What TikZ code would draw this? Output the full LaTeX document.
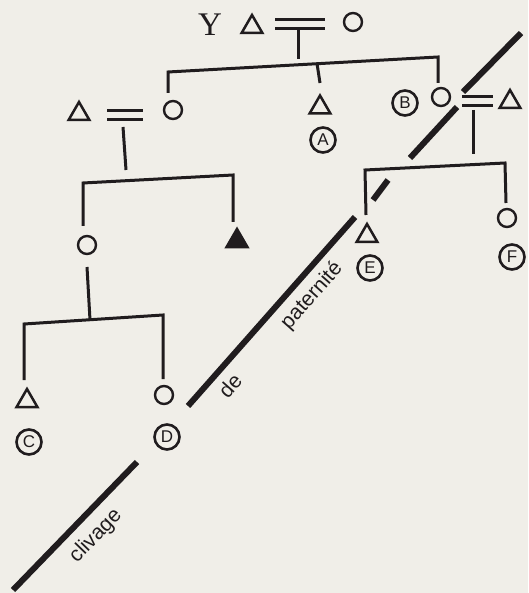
\documentclass[tikz,border=0pt]{standalone}
\usepackage{fontspec}
\setmainfont{Liberation Serif}
\newfontfamily\lsans{Liberation Sans}
\usetikzlibrary{shapes.geometric}
\definecolor{paper}{RGB}{240,238,232}
\definecolor{ink}{RGB}{32,28,30}
\begin{document}
\begin{tikzpicture}[x=1pt,y=-1pt,
  male/.style={regular polygon, regular polygon sides=3, draw=ink, line width=2.5pt, minimum size=24pt, inner sep=0pt},
  deadmale/.style={male, fill=ink},
  female/.style={circle, draw=ink, line width=2.4pt, minimum size=18pt, inner sep=0pt},
  tag/.style={circle, draw=ink, line width=2.6pt, minimum size=25pt, inner sep=0pt, text=ink, font=\lsans\fontsize{17}{17}\selectfont},
  kin/.style={draw=ink, line width=3pt},
  cleave/.style={draw=ink, line width=6pt},
  cleavetext/.style={text=ink, font=\lsans\fontsize{21}{21}\selectfont, inner sep=0pt}]
\fill[paper] (0,0) rectangle (528,593);
\useasboundingbox (0,0) rectangle (528,593);

% ---------- top couple ----------
\node[text=ink, inner sep=0pt, font=\fontsize{33}{33}\selectfont] (Y) at (210,25) {Y};
\node[male] (m0) at (252,27) {};
\node[female] (f0) at (353,22) {};
\coordinate (b0a) at (275,20); \coordinate (b0b) at (325,20);
\coordinate (b0c) at (275,29); \coordinate (b0d) at (325,29);
\draw[kin] (b0a) -- (b0b);
\draw[kin] (b0c) -- (b0d);
\coordinate (s0a) at (298,29); \coordinate (s0b) at (298,59);
\draw[kin] (s0a) -- (s0b);

% ---------- generation 2 ----------
\node[female] (f1) at (173,110) {};
\node[male] (m1) at (320,107.5) {};
\node[female] (f2) at (441,97) {};
\node[male] (m2) at (79,114) {};
\node[male] (m5) at (510,102) {};
\node[tag] (tA) at (323,140) {A};
\node[tag] (tB) at (405,103) {B};

\coordinate (g1L) at (168,72); \coordinate (g1R) at (438,57); \coordinate (g1A) at (317,63.5);
\draw[kin] (168,93) -- (g1L) -- (g1R) -- (438,83);
\draw[kin] (g1A) -- ([yshift=10pt]m1.north);

% left couple
\coordinate (b1a) at (107,111); \coordinate (b1b) at (143,111);
\coordinate (b1c) at (107,120); \coordinate (b1d) at (143,120);
\draw[kin] (b1a) -- (b1b);
\draw[kin] (b1c) -- (b1d);
\coordinate (s1a) at (123,127); \coordinate (s1b) at (126,170);
\draw[kin] (s1a) -- (s1b);

% right couple
\coordinate (b2a) at (462,97); \coordinate (b2b) at (493,97);
\coordinate (b2c) at (462,106); \coordinate (b2d) at (493,106);
\draw[kin] (b2a) -- (b2b);
\draw[kin] (b2c) -- (b2d);
\coordinate (s2a) at (473,110); \coordinate (s2b) at (473,154);
\draw[kin] (s2a) -- (s2b);

% ---------- generation 3 ----------
\node[female] (f3) at (87,245) {};
\node[deadmale] (m3) at (237,241) {};
\node[male] (m6) at (367,236) {};
\node[female] (f5) at (507,218) {};
\node[tag] (tE) at (370,268) {E};
\node[tag] (tF) at (512,257) {F};

\coordinate (g2L) at (83,183); \coordinate (g2R) at (233,175);
\draw[kin] (83,226) -- (g2L) -- (g2R) -- (233,222);

\coordinate (g4L) at (365,170); \coordinate (g4R) at (505,163);
\draw[kin] (366,215) -- (g4L) -- (g4R) -- (506,203);

% ---------- generation 4 ----------
\node[male] (m4) at (27,401) {};
\node[female] (f4) at (164,395) {};
\node[tag] (tC) at (29,442) {C};
\node[tag] (tD) at (167,437) {D};

\coordinate (s3a) at (87,267); \coordinate (s3b) at (90,320);
\draw[kin] (s3a) -- (s3b);
\coordinate (g3L) at (24,324); \coordinate (g3R) at (163,315);
\draw[kin] (24,380) -- (g3L) -- (g3R) -- (163,379);

% ---------- cleavage line ----------
\coordinate (k1a) at (521,33);  \coordinate (k1b) at (463,92);
\coordinate (k2a) at (457,107); \coordinate (k2b) at (410,158);
\coordinate (k3a) at (388,180); \coordinate (k3b) at (373,200);
\coordinate (k4a) at (355,217); \coordinate (k4b) at (188,406);
\coordinate (k5a) at (137,462); \coordinate (k5b) at (13,590);
\draw[cleave] (k1a) -- (k1b);
\draw[cleave] (k2a) -- (k2b);
\draw[cleave] (k3a) -- (k3b);
\draw[cleave] (k4a) -- (k4b);
\draw[cleave] (k5a) -- (k5b);

\node[cleavetext, rotate=48.5] (de) at (230,386) {de};
\node[cleavetext, rotate=48.5] (pat) at (312,296) {paternité};
\node[cleavetext, rotate=46] (cli) at (96,536) {clivage};
\end{tikzpicture}
\end{document}
